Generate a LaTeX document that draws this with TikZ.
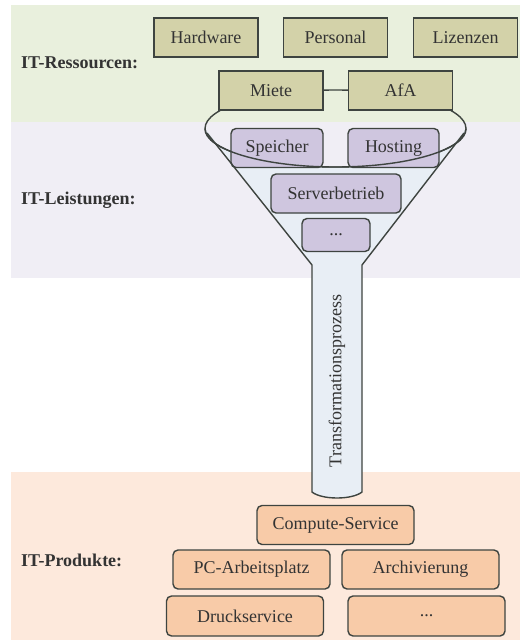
\documentclass[tikz,border=0pt]{standalone}
\usepackage{fontspec}
\setmainfont{Liberation Serif}
\definecolor{bandgreen}{HTML}{E9F0DD}
\definecolor{bandpurple}{HTML}{F0EEF5}
\definecolor{bandorange}{HTML}{FDE9DC}
\definecolor{boxgreen}{HTML}{D3D2A9}
\definecolor{boxpurple}{HTML}{CFC6DF}
\definecolor{boxorange}{HTML}{F8CBA8}
\definecolor{stemfill}{HTML}{E8EEF5}
\definecolor{linec}{HTML}{3E4440}
\definecolor{txt}{HTML}{333333}
\tikzset{
  base/.style={draw=linec, line width=1.4pt, inner sep=0pt, text=txt,
    font=\fontsize{18}{20}\selectfont, minimum height=39pt},
  resbox/.style={base, fill=boxgreen, minimum width=104pt},
  leistbox/.style={base, fill=boxpurple, rounded corners=5pt},
  prodbox/.style={base, fill=boxorange, rounded corners=5pt, minimum width=157pt},
  level/.style={font=\fontsize{18}{20}\selectfont\bfseries, text=txt, anchor=west, inner sep=0pt},
  funnelline/.style={draw=linec, line width=1.4pt}
}
\begin{document}
\begin{tikzpicture}[x=1pt,y=-1pt]
\useasboundingbox (0,0) rectangle (520,642);
\fill[white] (0,0) rectangle (520,642);
\fill[bandgreen] (11,5) rectangle (520,122);
\fill[bandpurple] (11,122) rectangle (520,278);
\fill[bandorange] (11,472) rectangle (520,640);
% funnel fill
\fill[stemfill] (205,128.5) arc[start angle=180, end angle=360, x radius=130.5pt, y radius=38.5pt]
  -- (362,265) -- (362,492) .. controls (352,500) and (322,500) .. (312,492) -- (312,265) -- cycle;
% ellipse outline (top part hidden by boxes)
\draw[funnelline] (335.5,128.5) ellipse [x radius=130.5pt, y radius=38.5pt];
% level labels
\node[level] (lres) at (21,63) {IT-Ressourcen:};
\node[level] (lleist) at (21,200) {IT-Leistungen:};
\node[level] (lprod) at (21,560) {IT-Produkte:};
% resources
\node[resbox] (hw) at (206,37.5) {Hardware};
\node[resbox] (pers) at (335.5,37.5) {Personal};
\node[resbox] (liz) at (465.5,37.5) {Lizenzen};
\node[resbox] (miete) at (271,90.5) {Miete};
\node[resbox] (afa) at (400.5,90.5) {AfA};
% services
\node[leistbox, minimum width=92pt] (spei) at (277,148) {Speicher};
\node[leistbox, minimum width=91pt] (host) at (393.5,148) {Hosting};
\node[leistbox, minimum width=130pt] (serv) at (336,193.5) {Serverbetrieb};
\node[leistbox, minimum width=68pt, minimum height=33pt] (more1) at (336,235) {...};
% funnel outline on top
\draw[funnelline] (205,128.5) arc[start angle=180, end angle=360, x radius=130.5pt, y radius=38.5pt];
\draw[funnelline] (207,133) -- (312,265) -- (312,492) .. controls (322,500) and (352,500) .. (362,492) -- (362,265) -- (464,133);
\node[rotate=90, text=txt, font=\fontsize{18}{20}\selectfont, inner sep=0pt] (trans) at (337,381) {Transformationsprozess};
% products
\node[prodbox] (comp) at (335.5,525) {Compute-Service};
\node[prodbox] (pc) at (251.5,569.5) {PC-Arbeitsplatz};
\node[prodbox] (arch) at (420.5,569.5) {Archivierung};
\node[prodbox, minimum height=40pt] (druck) at (245,616) {Druckservice};
\node[prodbox, minimum height=40pt] (more2) at (426.5,616) {...};
\end{tikzpicture}
\end{document}
